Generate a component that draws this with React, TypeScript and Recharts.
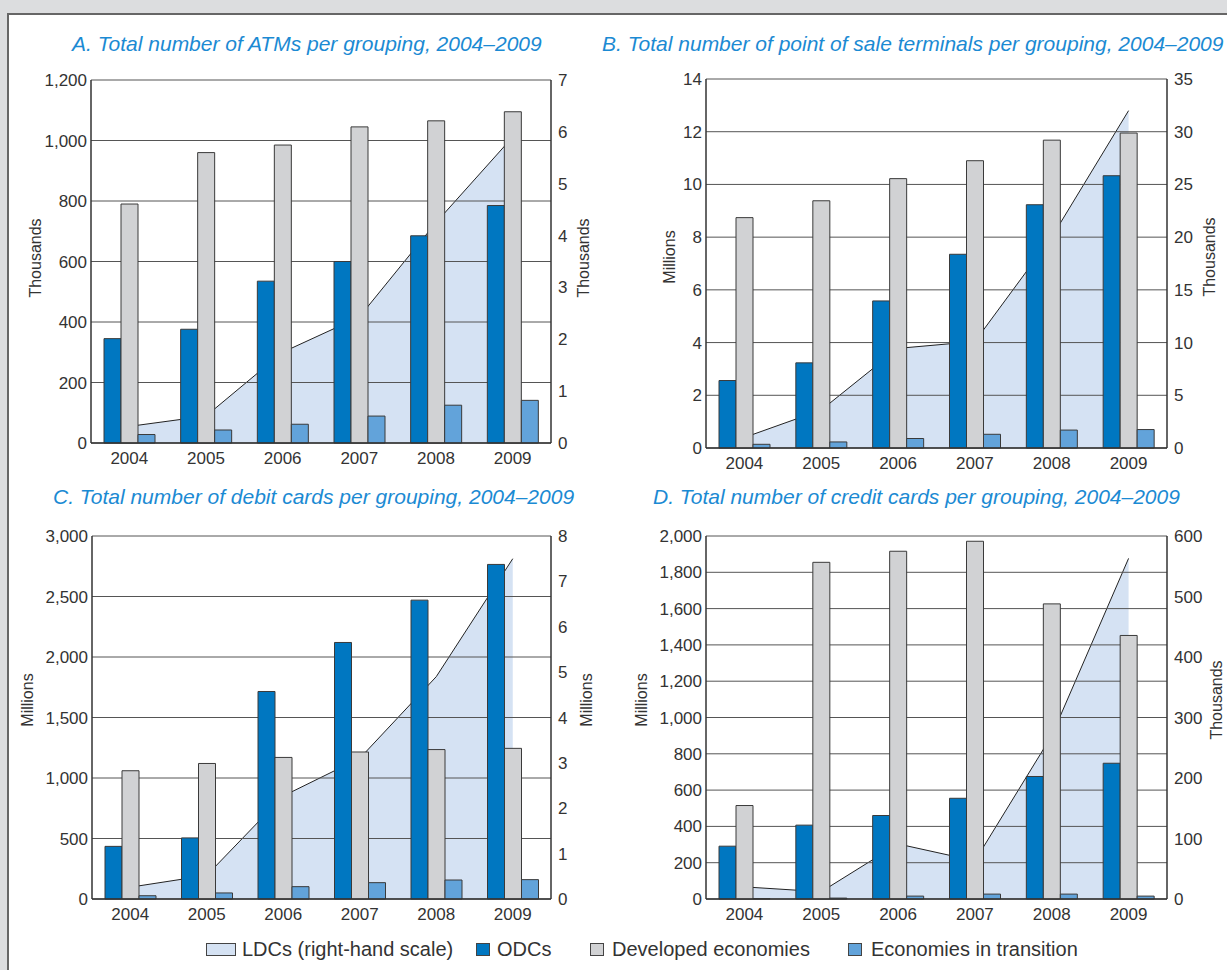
import React from 'react'
import { ComposedChart, Bar, Area, XAxis, YAxis, CartesianGrid } from 'recharts'

const years = ['2004', '2005', '2006', '2007', '2008', '2009']

// A. ATMs, thousands (LDCs on right scale, thousands)
const atmLdc = [0.32, 0.52, 1.75, 2.43, 4.25, 5.9]
const atmOdc = [345, 376, 535, 600, 685, 785]
const atmDeveloped = [790, 960, 985, 1045, 1065, 1095]
const atmTransition = [28, 43, 62, 89, 125, 141]

// B. point of sale terminals, millions (LDCs thousands)
const posLdc = [1.0, 3.6, 9.45, 10.1, 20, 32]
const posOdc = [2.56, 3.23, 5.58, 7.35, 9.23, 10.33]
const posDeveloped = [8.74, 9.38, 10.22, 10.9, 11.68, 11.95]
const posTransition = [0.14, 0.23, 0.36, 0.52, 0.68, 0.7]

// C. debit cards, millions (LDCs millions)
const debitLdc = [0.26, 0.52, 2.27, 3.1, 4.9, 7.5]
const debitOdc = [435, 505, 1715, 2120, 2470, 2765]
const debitDeveloped = [1060, 1120, 1170, 1215, 1235, 1245]
const debitTransition = [27, 50, 102, 135, 157, 160]

// D. credit cards, millions (LDCs thousands)
const creditLdc = [20, 12, 91, 63, 270, 563]
const creditOdc = [291, 407, 460, 555, 675, 748]
const creditDeveloped = [515, 1855, 1916, 1971, 1626, 1452]
const creditTransition = [2, 5, 16, 27, 27, 16]

const ticksA = [0, 200, 400, 600, 800, 1000, 1200]
const rightTicksA = [0, 1, 2, 3, 4, 5, 6, 7]
const ticksB = [0, 2, 4, 6, 8, 10, 12, 14]
const rightTicksB = [0, 5, 10, 15, 20, 25, 30, 35]
const ticksC = [0, 500, 1000, 1500, 2000, 2500, 3000]
const rightTicksC = [0, 1, 2, 3, 4, 5, 6, 7, 8]
const ticksD = [0, 200, 400, 600, 800, 1000, 1200, 1400, 1600, 1800, 2000]
const rightTicksD = [0, 100, 200, 300, 400, 500, 600]

const FONT = '"Liberation Sans", Arial, sans-serif'
const TEXT = '#333'
const C_LDC = '#d5e2f3'
const C_ODC = '#0077c1'
const C_DEV = '#d1d2d4'
const C_TRANS = '#62a3da'
const EDGE = '#3a3a3a'

const fmt = (v: number) => v.toLocaleString('en-US')

function rows(ldc: number[], odc: number[], dev: number[], trans: number[]) {
  return years.map((year, i) => ({ year, ldc: ldc[i], odc: odc[i], dev: dev[i], trans: trans[i] }))
}

type Box = { left: number; top: number; right: number; bottom: number }

interface PanelProps {
  title: string
  titleX: number
  titleY: number
  plot: Box
  data: ReturnType<typeof rows>
  leftTicks: number[]
  rightTicks: number[]
  leftLabel: string
  rightLabel: string
  leftLabelX: number
  rightLabelX: number
  labelY: number
}

const SIDE = 90
const TOP = 20
const XH = 34

function Panel(p: PanelProps) {
  const w = p.plot.right - p.plot.left
  const h = p.plot.bottom - p.plot.top
  const tick = { fill: TEXT, fontSize: 17, fontFamily: FONT }
  return (
    <>
      <div style={{ position: 'absolute', left: p.titleX, top: p.titleY, fontFamily: FONT, fontStyle: 'italic', fontSize: 21, color: '#1b8ad3', whiteSpace: 'nowrap', lineHeight: '24px' }}>
        {p.title}
      </div>
      <div style={{ position: 'absolute', left: p.plot.left - SIDE, top: p.plot.top - TOP }}>
        <ComposedChart width={w + SIDE * 2} height={h + TOP + XH} data={p.data} margin={{ top: TOP, right: 0, bottom: 0, left: 0 }} barGap={0} barSize={17}>
          <CartesianGrid vertical={false} yAxisId="left" stroke="#555" strokeWidth={1} />
          <XAxis dataKey="year" height={XH} tickLine={false} tickSize={0} tickMargin={9} axisLine={{ stroke: '#333', strokeWidth: 1.5 }} tick={tick} interval={0} />
          <YAxis yAxisId="left" width={SIDE} domain={[p.leftTicks[0], p.leftTicks[p.leftTicks.length - 1]]} ticks={p.leftTicks} interval={0} tickFormatter={fmt} tickLine={false} tickSize={0} tickMargin={4} axisLine={{ stroke: '#333', strokeWidth: 1.5 }} tick={tick} />
          <YAxis yAxisId="right" orientation="right" width={SIDE} domain={[p.rightTicks[0], p.rightTicks[p.rightTicks.length - 1]]} ticks={p.rightTicks} interval={0} tickFormatter={fmt} tickLine={false} tickSize={0} tickMargin={7} axisLine={{ stroke: '#333', strokeWidth: 1.5 }} tick={tick} />
          <Area yAxisId="right" type="linear" dataKey="ldc" stroke="#222" strokeWidth={1} fill={C_LDC} fillOpacity={1} isAnimationActive={false} zIndex={-150} />
          <Bar yAxisId="left" dataKey="odc" fill={C_ODC} stroke={EDGE} strokeWidth={1} isAnimationActive={false} />
          <Bar yAxisId="left" dataKey="dev" fill={C_DEV} stroke={EDGE} strokeWidth={1} isAnimationActive={false} />
          <Bar yAxisId="left" dataKey="trans" fill={C_TRANS} stroke={EDGE} strokeWidth={1} isAnimationActive={false} />
        </ComposedChart>
      </div>
      <AxisLabel text={p.leftLabel} x={p.leftLabelX} y={p.labelY} />
      <AxisLabel text={p.rightLabel} x={p.rightLabelX} y={p.labelY} />
    </>
  )
}

function AxisLabel({ text, x, y }: { text: string; x: number; y: number }) {
  return (
    <div style={{ position: 'absolute', left: x, top: y, transform: 'translate(-50%, -50%) rotate(-90deg)', fontFamily: FONT, fontSize: 16, color: TEXT, whiteSpace: 'nowrap', lineHeight: '18px' }}>
      {text}
    </div>
  )
}

function Swatch({ x, w, color }: { x: number; w: number; color: string }) {
  return <div style={{ position: 'absolute', left: x, top: 943, width: w, height: 13, background: color, border: '1px solid #444', boxSizing: 'border-box' }} />
}

function LegendText({ x, text }: { x: number; text: string }) {
  return <div style={{ position: 'absolute', left: x, top: 937, fontFamily: FONT, fontSize: 20, color: TEXT, whiteSpace: 'nowrap', lineHeight: '24px' }}>{text}</div>
}

export default function App() {
  return (
    <div style={{ position: 'absolute', left: 0, top: 0, width: 1227, height: 970, background: '#dcdddf', overflow: 'hidden' }}>
      <div style={{ position: 'absolute', left: 7, top: 13, width: 1230, height: 970, background: '#fff', borderTop: '2px solid #666', borderLeft: '2px solid #666', boxSizing: 'border-box' }} />
      <Panel title="A. Total number of ATMs per grouping, 2004–2009" titleX={72} titleY={32} plot={{ left: 91, top: 80, right: 551, bottom: 443 }} data={rows(atmLdc, atmOdc, atmDeveloped, atmTransition)} leftTicks={ticksA} rightTicks={rightTicksA} leftLabel="Thousands" rightLabel="Thousands" leftLabelX={36} rightLabelX={584} labelY={258} />
      <Panel title="B. Total number of point of sale terminals per grouping, 2004–2009" titleX={602} titleY={32} plot={{ left: 706, top: 79, right: 1167, bottom: 448 }} data={rows(posLdc, posOdc, posDeveloped, posTransition)} leftTicks={ticksB} rightTicks={rightTicksB} leftLabel="Millions" rightLabel="Thousands" leftLabelX={670} rightLabelX={1210} labelY={257} />
      <Panel title="C. Total number of debit cards per grouping, 2004–2009" titleX={53} titleY={485} plot={{ left: 92, top: 536, right: 551, bottom: 899 }} data={rows(debitLdc, debitOdc, debitDeveloped, debitTransition)} leftTicks={ticksC} rightTicks={rightTicksC} leftLabel="Millions" rightLabel="Millions" leftLabelX={28} rightLabelX={587} labelY={700} />
      <Panel title="D. Total number of credit cards per grouping, 2004–2009" titleX={653} titleY={485} plot={{ left: 706, top: 536, right: 1167, bottom: 899 }} data={rows(creditLdc, creditOdc, creditDeveloped, creditTransition)} leftTicks={ticksD} rightTicks={rightTicksD} leftLabel="Millions" rightLabel="Thousands" leftLabelX={642} rightLabelX={1217} labelY={700} />
      <Swatch x={206} w={30} color={C_LDC} />
      <LegendText x={242} text="LDCs (right-hand scale)" />
      <Swatch x={476} w={14} color={C_ODC} />
      <LegendText x={497} text="ODCs" />
      <Swatch x={590} w={14} color={C_DEV} />
      <LegendText x={612} text="Developed economies" />
      <Swatch x={848} w={14} color={C_TRANS} />
      <LegendText x={871} text="Economies in transition" />
    </div>
  )
}
